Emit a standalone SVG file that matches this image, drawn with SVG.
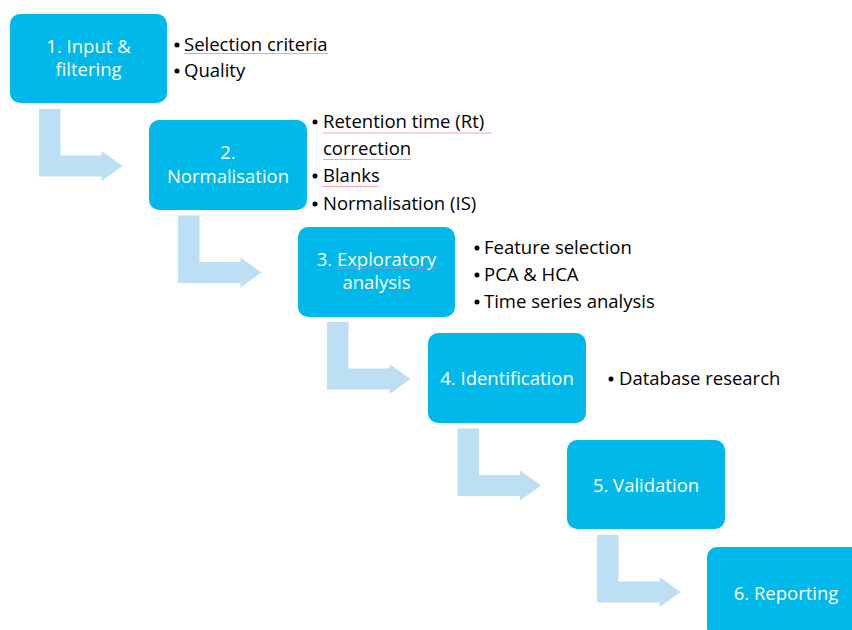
<svg xmlns="http://www.w3.org/2000/svg" width="852" height="630" viewBox="0 0 852 630">
<defs>
<style>
.box{fill:#00B8EA;}
.bt{fill:#FFFFFF;font-family:"Open Sans","Liberation Sans",sans-serif;font-size:18.5px;text-anchor:middle;}
.lt{fill:#000000;font-family:"Open Sans","Liberation Sans",sans-serif;font-size:18.5px;}
.dot{fill:#000000;}
.arr{fill:#BDDFF4;}
.sp{stroke:#F08080;stroke-width:1;fill:none;opacity:0.7;}
</style>
<path id="Larrow" d="M0,0 H21.5 V46.5 H62.5 V42 L83.5,57 L62.5,72 V67.5 H0 Z"/>
</defs>
<g id="connectors">
<use href="#Larrow" class="arr" x="39" y="109"/>
<use href="#Larrow" class="arr" x="178" y="215.5"/>
<use href="#Larrow" class="arr" x="327" y="322"/>
<use href="#Larrow" class="arr" x="457.5" y="428.5"/>
<use href="#Larrow" class="arr" x="597" y="535"/>
</g>
<g id="node1">
<rect class="box" x="10" y="14" width="157" height="89" rx="10"/>
<text class="bt" x="88.5" y="53">1. Input &amp;<tspan x="88.5" dy="23">filtering</tspan></text>
</g>
<g id="notes1">
<circle class="dot" cx="177" cy="45" r="2.5"/>
<text class="lt" x="184" y="51">Selection criteria</text>
<circle class="dot" cx="177" cy="71" r="2.5"/>
<text class="lt" x="184" y="77">Quality</text>
<path class="sp" d="M184,53.5 H328"/>
</g>
<g id="node2">
<rect class="box" x="149" y="120" width="158" height="90" rx="10"/>
<text class="bt" x="228" y="159">2.<tspan x="228" dy="24">Normalisation</tspan></text>
</g>
<g id="notes2">
<circle class="dot" cx="315" cy="122" r="2.5"/>
<text class="lt" x="323" y="128">Retention time (Rt)<tspan x="323" dy="27">correction</tspan></text>
<circle class="dot" cx="315" cy="176" r="2.5"/>
<text class="lt" x="323" y="182">Blanks</text>
<circle class="dot" cx="315" cy="204" r="2.5"/>
<text class="lt" x="323" y="210">Normalisation (IS)</text>
<path class="sp" d="M323,133 H492 M323,159.5 H411 M323,186.5 H378"/>
</g>
<g id="node3">
<rect class="box" x="298" y="227" width="157" height="90" rx="10"/>
<text class="bt" x="376.5" y="266">3. Exploratory<tspan x="376.5" dy="23">analysis</tspan></text>
<path class="sp" d="M337,268 H437"/>
</g>
<g id="notes3">
<circle class="dot" cx="477" cy="248" r="2.5"/>
<text class="lt" x="484" y="254">Feature selection</text>
<circle class="dot" cx="477" cy="275" r="2.5"/>
<text class="lt" x="484" y="281">PCA &amp; HCA</text>
<circle class="dot" cx="477" cy="302" r="2.5"/>
<text class="lt" x="484" y="308">Time series analysis</text>
</g>
<g id="node4">
<rect class="box" x="428" y="333" width="158" height="90" rx="10"/>
<text class="bt" x="507" y="385">4. Identification</text>
</g>
<g id="notes4">
<circle class="dot" cx="611" cy="379" r="2.5"/>
<text class="lt" x="619" y="385">Database research</text>
</g>
<g id="node5">
<rect class="box" x="567" y="440" width="158" height="89" rx="10"/>
<text class="bt" x="646" y="492">5. Validation</text>
</g>
<g id="node6">
<rect class="box" x="707" y="547" width="158" height="90" rx="10"/>
<text class="bt" x="786" y="600">6. Reporting</text>
</g>
</svg>
